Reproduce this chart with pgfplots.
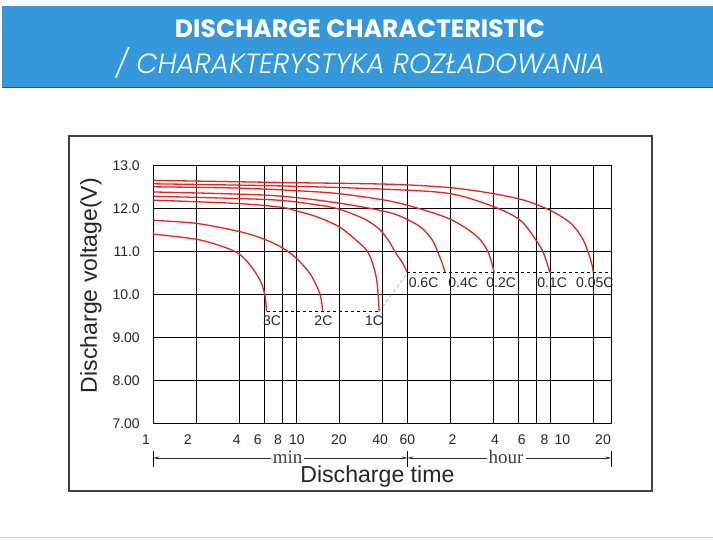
\documentclass[border=0pt]{standalone}
\usepackage{fontspec}
\setmainfont{Liberation Sans}
\newfontfamily\titlefont{Poppins}
\newfontfamily\titlelight{Poppins}[UprightFont={* Light}, ItalicFont={* Light Italic}]
\newfontfamily\seriffont{Liberation Serif}
\usepackage{pgfplots}
\pgfplotsset{compat=1.18}
\usetikzlibrary{arrows.meta}
\definecolor{banner}{RGB}{52,152,219}
\definecolor{curve}{RGB}{232,36,30}
\begin{document}
\begin{tikzpicture}[x=1pt,y=1pt]
\useasboundingbox (0,0) rectangle (713,-541);
\fill[white] (0,0) rectangle (713,-541);
\fill[banner] (2,-6) rectangle (713,-87);
\draw[banner!60!black, line width=1pt] (2,-87) -- (713,-87);
\node[anchor=base, text=white, inner sep=0] at (360,-37.3) {\resizebox{370pt}{!}{\titlefont\bfseries DISCHARGE CHARACTERISTIC}};
\node[anchor=base, text=white, inner sep=0] at (360.5,-73) {\resizebox{489pt}{!}{\titlelight\itshape / CHARAKTERYSTYKA ROZŁADOWANIA}};
\draw[banner!40, line width=1pt] (0,-537.5) -- (713,-537.5);
\draw[black!75, line width=1.5pt] (69,-136) rectangle (652,-491);
\begin{axis}[at={(153.3pt,-423.3pt)}, anchor=south west,
  width=458pt, height=258pt, scale only axis,
  xmode=log, xmin=1, xmax=1600, ymin=7, ymax=13,
  xtick={1,2,4,6,8,10,20,40,60,120,240,360,480,600,1200},
  ytick={7,8,9,10,11,12,13},
  xticklabels={}, yticklabels={},
  major tick length=0,
  grid=major, major grid style={black, line width=0.9pt},
  axis line style={black, line width=0.9pt},
  clip=false]
% curves
\addplot[curve, line width=1.3pt, smooth, tension=0.5] coordinates {(1,11.40)(2,11.28)(3,11.12)(3.94,10.95)(4.76,10.68)(5.58,10.33)(6.0,10.02)(6.15,9.75)(6.2,9.6)};
\addplot[curve, line width=1.3pt, smooth, tension=0.5] coordinates {(1,11.72)(2,11.65)(4,11.46)(6,11.28)(8,11.08)(10,10.84)(12.5,10.48)(14.3,10.10)(15,9.86)(15.3,9.6)};
\addplot[curve, line width=1.3pt, smooth, tension=0.5] coordinates {(1,12.19)(4,12.11)(8,12.02)(10,11.94)(14,11.8)(20,11.57)(26,11.27)(31,11.03)(34,10.75)(36.5,10.35)(37.6,9.9)(38,9.6)};
\addplot[curve, line width=1.3pt, smooth, tension=0.5] coordinates {(1,12.28)(6.6,12.20)(14,12.08)(20,11.98)(30,11.75)(38,11.52)(44,11.26)(50,10.95)(55,10.75)(59,10.55)(60,10.5)};
\addplot[curve, line width=1.3pt, smooth, tension=0.5] coordinates {(1,12.38)(6.6,12.30)(20,12.12)(45,11.9)(65,11.68)(78,11.5)(90,11.25)(96,11.05)(103,10.8)(108,10.6)(110,10.5)};
\addplot[curve, line width=1.3pt, smooth, tension=0.5] coordinates {(1,12.50)(4,12.47)(10,12.41)(20,12.34)(45,12.17)(80,11.95)(119,11.75)(160,11.5)(190,11.3)(215,11.05)(230,10.8)(238,10.62)(242,10.5)};
\addplot[curve, line width=1.3pt, smooth, tension=0.5] coordinates {(1,12.57)(8,12.52)(45,12.44)(120,12.34)(240,12.04)(370,11.72)(480,11.24)(530,11.0)(565,10.75)(590,10.55)(600,10.5)};
\addplot[curve, line width=1.3pt, smooth, tension=0.5] coordinates {(1,12.65)(8,12.60)(45,12.56)(120,12.48)(240,12.34)(400,12.18)(600,11.95)(800,11.7)(920,11.49)(1020,11.26)(1110,10.95)(1170,10.7)(1200,10.5)};
% cut-off lines
\addplot[black, dashed, line width=0.8pt] coordinates {(6.2,9.6)(38,9.6)};
\addplot[black, dashed, line width=0.8pt] coordinates {(60,10.5)(1600,10.5)};
\addplot[gray!70, dashed, line width=0.7pt] coordinates {(38,9.6)(60,10.5)};
% curve labels
\begin{scope}[every node/.style={font=\fontsize{14}{15}\selectfont, inner sep=0, text=black!85}]
\node[anchor=north] at (axis cs:6.77,9.5) {3C};
\node[anchor=north] at (axis cs:15.5,9.5) {2C};
\node[anchor=north] at (axis cs:35,9.5) {1C};
\node[anchor=west] at (axis cs:61.1,10.26) {0.6C};
\node[anchor=west] at (axis cs:115.5,10.26) {0.4C};
\node[anchor=west] at (axis cs:213,10.26) {0.2C};
\node[anchor=west] at (axis cs:485,10.26) {0.1C};
\node[anchor=west] at (axis cs:905,10.26) {0.05C};
\end{scope}
% tick labels
\begin{scope}[every node/.style={font=\fontsize{14}{16}\selectfont, inner sep=0, text=black!85}]
\node[anchor=east] at (axis cs:0.807,13) {13.0};
\node[anchor=east] at (axis cs:0.807,12) {12.0};
\node[anchor=east] at (axis cs:0.807,11) {11.0};
\node[anchor=east] at (axis cs:0.807,10) {10.0};
\node[anchor=east] at (axis cs:0.807,9) {9.00};
\node[anchor=east] at (axis cs:0.807,8) {8.00};
\node[anchor=east] at (axis cs:0.807,7) {7.00};
\node[anchor=base] at (axis cs:0.889,6.5) {1};
\node[anchor=base] at (axis cs:1.74,6.5) {2};
\node[anchor=base] at (axis cs:3.83,6.5) {4};
\node[anchor=base] at (axis cs:5.38,6.5) {6};
\node[anchor=base] at (axis cs:7.47,6.5) {8};
\node[anchor=base] at (axis cs:10.1,6.5) {10};
\node[anchor=base] at (axis cs:19.9,6.5) {20};
\node[anchor=base] at (axis cs:38.7,6.5) {40};
\node[anchor=base] at (axis cs:60,6.5) {60};
\node[anchor=base] at (axis cs:124,6.5) {2};
\node[anchor=base] at (axis cs:246,6.5) {4};
\node[anchor=base] at (axis cs:378,6.5) {6};
\node[anchor=base] at (axis cs:545,6.5) {8};
\node[anchor=base] at (axis cs:728,6.5) {10};
\node[anchor=base] at (axis cs:1400,6.5) {20};
\end{scope}
% min / hour scale
\draw[black, line width=0.6pt] (axis cs:1,6.36) -- (axis cs:1,5.99);
\draw[black, line width=0.6pt] (axis cs:60,6.36) -- (axis cs:60,5.99);
\draw[black, line width=0.6pt] (axis cs:1600,6.36) -- (axis cs:1600,5.99);
\draw[black!80, line width=0.6pt, {Stealth[length=6pt,width=3pt]}-{Stealth[length=6pt,width=3pt]}] (axis cs:1,6.194) -- (axis cs:60,6.194);
\draw[black!80, line width=0.6pt, {Stealth[length=6pt,width=3pt]}-{Stealth[length=6pt,width=3pt]}] (axis cs:60,6.194) -- (axis cs:1600,6.194);
\node[anchor=base, fill=white, inner sep=2pt, font=\seriffont\fontsize{19}{20}\selectfont, text=black!75] at (axis cs:8.7,6.055) {min};
\node[anchor=base, fill=white, inner sep=2pt, font=\seriffont\fontsize{19}{20}\selectfont, text=black!75] at (axis cs:294,6.055) {hour};
\end{axis}
\node[rotate=90, text=black!85, inner sep=0] at (91,-285.5) {\resizebox{215pt}{!}{\fontsize{20}{22}\selectfont Discharge voltage(V)}};
\node[anchor=base, text=black!85, inner sep=0] at (377.4,-482.7) {\resizebox{154pt}{!}{\fontsize{20}{22}\selectfont Discharge time}};
\end{tikzpicture}
\end{document}
